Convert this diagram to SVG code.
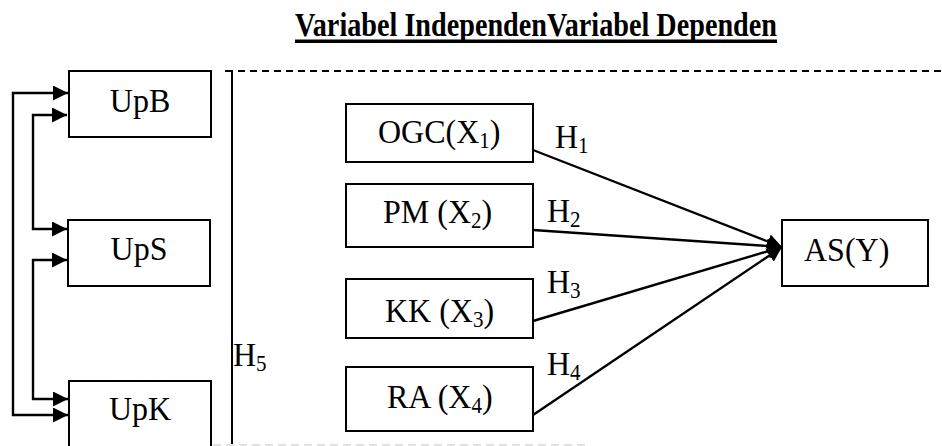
<svg xmlns="http://www.w3.org/2000/svg" width="942" height="446" viewBox="0 0 942 446">
  <style>
    text { font-family: "Liberation Serif", "Times New Roman", serif; font-size: 32px; fill: #000; }
    .title { font-weight: bold; font-size: 28px; }
    .sub { font-size: 21px; }
    .box { fill: #fff; stroke: #000; stroke-width: 2; }
    .line { fill: none; stroke: #000; stroke-width: 2.4; }
    .thin { fill: none; stroke: #000; stroke-width: 2; }
    .dash { fill: none; stroke: #000; stroke-width: 2; stroke-dasharray: 7 5; }
    .dash-light { fill: none; stroke: #e2e2e2; stroke-width: 2; stroke-dasharray: 8 5; }
  </style>
  <defs>
    <marker id="arrow" markerUnits="userSpaceOnUse" markerWidth="15" markerHeight="15" viewBox="0 0 14 14" refX="14" refY="7" orient="auto-start-reverse">
      <path d="M0,0 L14,7 L0,14 z" fill="#000"/>
    </marker>
  </defs>

  <rect width="942" height="446" fill="#fff"/>

  <!-- heading -->
  <g id="title">
    <text class="title" transform="translate(295,36) scale(1,1.24)" textLength="482" lengthAdjust="spacingAndGlyphs">Variabel IndependenVariabel Dependen</text>
    <rect x="295" y="39.5" width="482" height="3.5" fill="#000"/>
  </g>

  <!-- frame lines -->
  <g id="frame">
    <path class="thin" d="M225,71 H232 V446"/>
    <path class="dash" d="M238,71 H942"/>
    <path class="dash-light" d="M213,445 H585"/>
  </g>

  <!-- connectors -->
  <g id="connectors">
    <path class="line" d="M68,93 H13 V415 H68" marker-start="url(#arrow)" marker-end="url(#arrow)"/>
    <path class="line" d="M67,115 H33 V229 H67" marker-start="url(#arrow)" marker-end="url(#arrow)"/>
    <path class="line" d="M67,260 H33 V399 H68" marker-start="url(#arrow)" marker-end="url(#arrow)"/>
    <path class="line" d="M533,150 L782,247" marker-end="url(#arrow)"/>
    <path class="line" d="M533,230 L782,247" marker-end="url(#arrow)"/>
    <path class="line" d="M533,321 L782,247" marker-end="url(#arrow)"/>
    <path class="line" d="M533,415 L782,247" marker-end="url(#arrow)"/>
  </g>

  <!-- hypothesis labels -->
  <g id="labels">
    <text transform="translate(555,148) scale(1,1.08)">H<tspan class="sub" dy="5">1</tspan></text>
    <text transform="translate(547,222) scale(1,1.08)">H<tspan class="sub" dy="5">2</tspan></text>
    <text transform="translate(547,293) scale(1,1.08)">H<tspan class="sub" dy="5">3</tspan></text>
    <text transform="translate(547,375) scale(1,1.08)">H<tspan class="sub" dy="5">4</tspan></text>
    <text transform="translate(233,366) scale(1,1.08)">H<tspan class="sub" dy="5">5</tspan></text>
  </g>

  <!-- moderating variables -->
  <g id="UpB">
    <rect class="box" x="69" y="71" width="142" height="66"/>
    <text transform="translate(140,112) scale(1,1.08)" text-anchor="middle">UpB</text>
  </g>
  <g id="UpS">
    <rect class="box" x="68" y="220" width="142" height="66"/>
    <text transform="translate(139,260) scale(1,1.08)" text-anchor="middle">UpS</text>
  </g>
  <g id="UpK">
    <rect class="box" x="69" y="381" width="142" height="80"/>
    <text transform="translate(140,420) scale(1,1.08)" text-anchor="middle">UpK</text>
  </g>

  <!-- independent variables -->
  <g id="OGC">
    <rect class="box" x="346" y="104" width="187" height="58"/>
    <text transform="translate(378,143) scale(1,1.08)">OGC(X<tspan class="sub" dy="5">1</tspan><tspan dy="-5">)</tspan></text>
  </g>
  <g id="PM">
    <rect class="box" x="346" y="184" width="187" height="63"/>
    <text transform="translate(383,223) scale(1,1.08)">PM (X<tspan class="sub" dy="5">2</tspan><tspan dy="-5">)</tspan></text>
  </g>
  <g id="KK">
    <rect class="box" x="346" y="279" width="187" height="59"/>
    <text transform="translate(385,322) scale(1,1.08)">KK (X<tspan class="sub" dy="5">3</tspan><tspan dy="-5">)</tspan></text>
  </g>
  <g id="RA">
    <rect class="box" x="346" y="367" width="187" height="64"/>
    <text transform="translate(387,408) scale(1,1.08)">RA (X<tspan class="sub" dy="5">4</tspan><tspan dy="-5">)</tspan></text>
  </g>

  <!-- dependent variable -->
  <g id="AS">
    <rect class="box" x="782" y="220" width="146" height="66"/>
    <text transform="translate(804,261) scale(1,1.08)">AS(Y)</text>
  </g>
</svg>
